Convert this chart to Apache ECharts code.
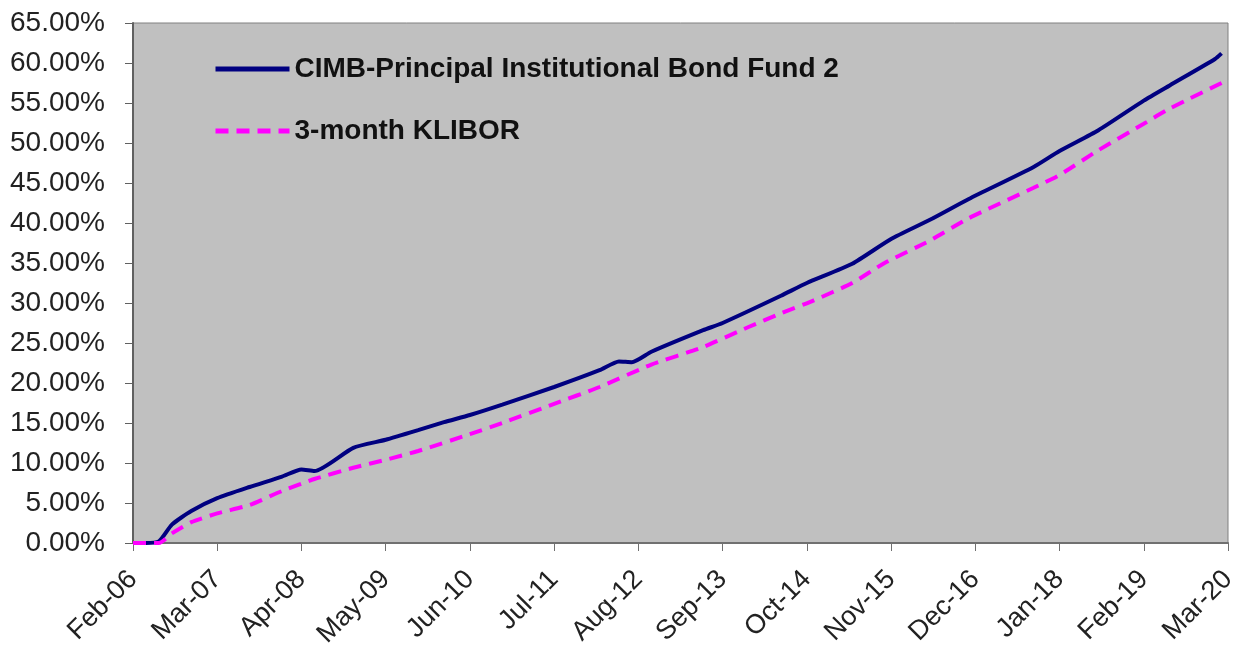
<!DOCTYPE html>
<html>
<head>
<meta charset="utf-8">
<script src="https://cdn.jsdelivr.net/npm/echarts@6/dist/echarts.min.js"></script>
<style>
html,body{margin:0;padding:0;background:#fff;}
#chart{width:1240px;height:647px;}
</style>
</head>
<body>
<div id="chart"></div>
<script>
// Month index counted from Feb-06 (0) to Mar-20 (169)
const tickLabels = ['Feb-06','Mar-07','Apr-08','May-09','Jun-10','Jul-11','Aug-12','Sep-13','Oct-14','Nov-15','Dec-16','Jan-18','Feb-19','Mar-20'];
const seriesNames = ['CIMB-Principal Institutional Bond Fund 2', '3-month KLIBOR'];

const fundMonths  = [0, 2, 4, 6, 9, 13, 18, 23, 26, 28, 34, 39, 44, 48, 52, 57, 65, 72, 75, 77, 80, 88, 91, 100, 104, 111, 117, 123, 129, 139, 143, 149, 156, 160, 167, 168];
const fundReturn  = [0, 0, 0.2, 2.3, 4.0, 5.6, 7.0, 8.3, 9.2, 9.0, 11.9, 12.9, 14.1, 15.1, 16.0, 17.3, 19.5, 21.6, 22.7, 22.6, 23.9, 26.6, 27.5, 30.9, 32.5, 34.9, 38.0, 40.4, 43.0, 47.0, 49.0, 51.6, 55.3, 57.2, 60.5, 61.2];

const kliborMonths = [0, 2, 4, 6, 9, 13, 18, 23, 28, 34, 39, 44, 52, 57, 65, 72, 80, 88, 95, 100, 105, 111, 116, 123, 129, 139, 143, 149, 156, 160, 169];
const kliborReturn = [0, 0, 0, 1.2, 2.6, 3.7, 4.75, 6.5, 8.0, 9.4, 10.4, 11.5, 13.6, 15.0, 17.4, 19.5, 22.3, 24.5, 27.0, 28.7, 30.3, 32.5, 35.0, 37.8, 40.6, 44.4, 46.0, 49.1, 52.4, 54.3, 57.9];

const pair = (xs, ys) => xs.map((x, i) => [x, ys[i]]);
const FONT = 'Liberation Sans, Arial, sans-serif';

const chart = echarts.init(document.getElementById('chart'));
chart.setOption({
  animation: false,
  textStyle: { fontFamily: FONT },
  grid: {
    left: 133, right: 12, top: 23, bottom: 104,
    outerBoundsMode: 'none', containLabel: false,
    show: true, backgroundColor: '#C0C0C0', borderColor: '#808080', borderWidth: 1
  },
  legend: {
    orient: 'vertical', left: 208, top: 50, itemGap: 34,
    itemWidth: 74, itemHeight: 14,
    itemStyle: { opacity: 0 },
    lineStyle: { width: 5 },
    textStyle: { fontSize: 28, fontWeight: 'bold', color: '#111', fontFamily: FONT },
    data: seriesNames
  },
  xAxis: {
    type: 'value', min: 0, max: 169, interval: 13,
    axisLine: { lineStyle: { color: '#707070', width: 2 } },
    axisTick: { show: true, length: 8, lineStyle: { color: '#707070' } },
    splitLine: { show: false },
    axisLabel: {
      rotate: 45, margin: 32, fontSize: 27, color: '#222',
      formatter: v => tickLabels[Math.round(v / 13)] || ''
    }
  },
  yAxis: {
    type: 'value', min: 0, max: 65, interval: 5,
    axisLine: { show: true, lineStyle: { color: '#606060', width: 2 } },
    axisTick: { show: true, length: 8, lineStyle: { color: '#606060' } },
    splitLine: { show: false },
    axisLabel: {
      margin: 28, fontSize: 28, color: '#222',
      formatter: v => v.toFixed(2) + '%'
    }
  },
  series: [
    {
      name: seriesNames[0], type: 'line', symbol: 'none', smooth: 0.2,
      lineStyle: { color: '#000080', width: 4 },
      itemStyle: { color: '#000080' },
      data: pair(fundMonths, fundReturn)
    },
    {
      name: seriesNames[1], type: 'line', symbol: 'none', smooth: 0.2,
      lineStyle: { color: '#FF00FF', width: 4, type: [13, 8] },
      itemStyle: { color: '#FF00FF' },
      data: pair(kliborMonths, kliborReturn)
    }
  ]
});
</script>
</body>
</html>
